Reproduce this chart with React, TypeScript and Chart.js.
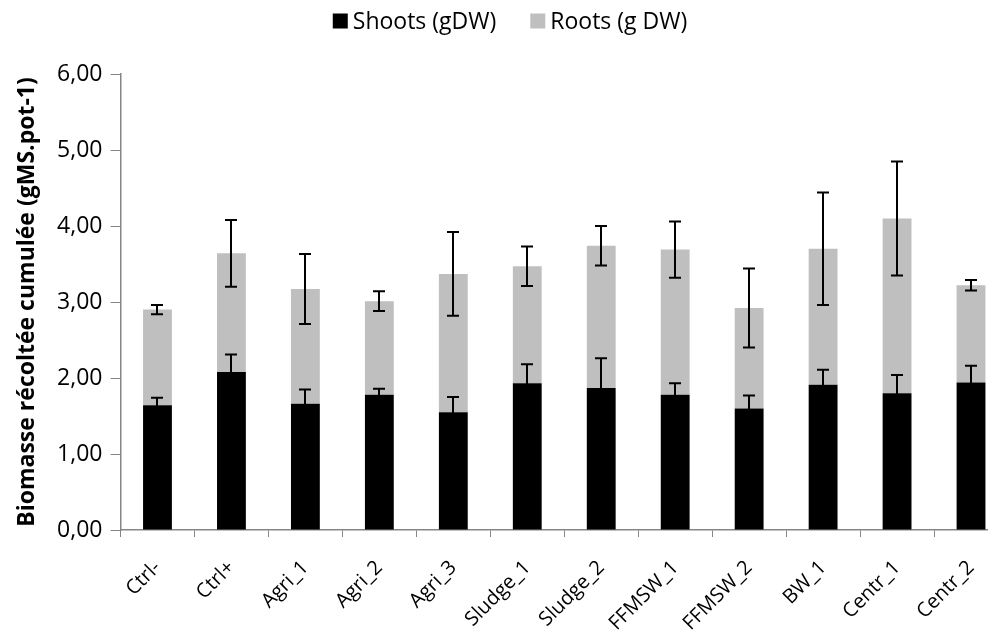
import React, { useEffect, useRef } from "react";
import { Chart, registerables } from "chart.js";

Chart.register(...registerables);

const categories = ["Ctrl-", "Ctrl+", "Agri_1", "Agri_2", "Agri_3", "Sludge_1", "Sludge_2", "FFMSW_1", "FFMSW_2", "BW_1", "Centr_1", "Centr_2"];
const shoots = [1.64, 2.08, 1.66, 1.78, 1.55, 1.93, 1.87, 1.78, 1.60, 1.91, 1.80, 1.94];
const shootsErr = [0.10, 0.23, 0.19, 0.08, 0.20, 0.25, 0.39, 0.15, 0.17, 0.20, 0.24, 0.22];
const roots = [1.26, 1.56, 1.51, 1.23, 1.82, 1.54, 1.87, 1.91, 1.32, 1.79, 2.30, 1.28];
const totalErr = [0.06, 0.44, 0.46, 0.13, 0.55, 0.26, 0.26, 0.37, 0.52, 0.74, 0.75, 0.07];
const yTicks = [0, 1, 2, 3, 4, 5, 6];
const seriesNames = ["Shoots (gDW)", "Roots (g DW)"];
const seriesColors = ["#000000", "#BFBFBF"];

const FONT = "'Open Sans', 'DejaVu Sans', sans-serif";

const errorBars = {
  id: "errorBars",
  afterDatasetsDraw(chart: any) {
    const ctx = chart.ctx;
    const y = chart.scales.y;
    const errs = [shootsErr, totalErr];
    ctx.save();
    ctx.strokeStyle = "#000000";
    ctx.lineWidth = 2;
    [0, 1].forEach((di) => {
      const meta = chart.getDatasetMeta(di);
      meta.data.forEach((bar: any, i: number) => {
        const top = di === 0 ? shoots[i] : shoots[i] + roots[i];
        const e = errs[di][i];
        const y1 = y.getPixelForValue(top + e);
        const y2 = y.getPixelForValue(top - e);
        const x = Math.round(bar.x);
        const cap = 6;
        ctx.beginPath();
        ctx.moveTo(x, y1);
        ctx.lineTo(x, y2);
        ctx.moveTo(x - cap, y1);
        ctx.lineTo(x + cap, y1);
        ctx.moveTo(x - cap, y2);
        ctx.lineTo(x + cap, y2);
        ctx.stroke();
      });
    });
    ctx.restore();
  },
};

const topLegend = {
  id: "topLegend",
  afterDraw(chart: any) {
    const ctx = chart.ctx;
    const size = 23;
    const box = 15;
    const gapText = 5;
    const gapItem = 34;
    ctx.save();
    ctx.font = `${size}px ${FONT}`;
    ctx.textBaseline = "middle";
    ctx.textAlign = "left";
    const widths = seriesNames.map((n) => ctx.measureText(n).width);
    const total = widths.reduce((a, w) => a + box + gapText + w, 0) + gapItem * (seriesNames.length - 1);
    let x = chart.width / 2 + 2 - total / 2;
    const cy = 13;
    seriesNames.forEach((n, i) => {
      ctx.fillStyle = seriesColors[i];
      ctx.fillRect(x, cy - box / 2, box, box);
      x += box + gapText;
      ctx.fillStyle = "#000";
      ctx.fillText(n, x, cy + 1);
      x += widths[i] + gapItem;
    });
    ctx.restore();
  },
};

export default function App() {
  const ref = useRef<HTMLCanvasElement>(null);
  useEffect(() => {
    if (!ref.current) return;
    const chart = new Chart(ref.current, {
      type: "bar",
      data: {
        labels: categories,
        datasets: [
          { label: seriesNames[0], data: shoots, backgroundColor: seriesColors[0], barPercentage: 0.39, categoryPercentage: 1 },
          { label: seriesNames[1], data: roots, backgroundColor: seriesColors[1], barPercentage: 0.39, categoryPercentage: 1 },
        ],
      },
      options: {
        animation: false,
        responsive: true,
        maintainAspectRatio: false,
        layout: { padding: { left: 0, right: 0, top: 66, bottom: 0 } },
        plugins: {
          legend: { display: false },
          tooltip: { enabled: false },
        },
        scales: {
          x: {
            stacked: true,
            grid: { display: true, drawOnChartArea: false, drawTicks: true, tickLength: 7, color: "#868686", offset: true },
            border: { color: "#868686", width: 1.5 },
            ticks: { color: "#000", font: { family: FONT, size: 20 }, minRotation: 45, maxRotation: 45, padding: 19 },
            afterFit(scale: any) { scale.height = 104; },
          },
          y: {
            stacked: true,
            min: 0,
            max: 6,
            afterBuildTicks(scale: any) { scale.ticks = yTicks.map((v) => ({ value: v })); },
            grid: { display: true, drawOnChartArea: false, drawTicks: true, tickLength: 10, color: "#868686" },
            border: { color: "#868686", width: 1.5 },
            ticks: {
              color: "#000",
              font: { family: FONT, size: 23 },
              padding: 8,
              callback: (v: any) => Number(v).toFixed(2).replace(".", ","),
            },
            title: {
              display: true,
              text: "Biomasse récoltée cumulée (gMS.pot-1)",
              color: "#000",
              font: { family: FONT, size: 23, weight: "bold" },
              padding: { top: 6, bottom: 0 },
            },
            afterFit(scale: any) { scale.width = 112.5; },
          },
        },
      },
      plugins: [errorBars, topLegend],
    });
    return () => chart.destroy();
  }, []);
  return (
    <div style={{ width: 980, height: 626, overflow: "hidden", position: "relative" }}>
      <div style={{ width: 1000, height: 626, position: "relative" }}>
        <canvas ref={ref} />
      </div>
    </div>
  );
}
